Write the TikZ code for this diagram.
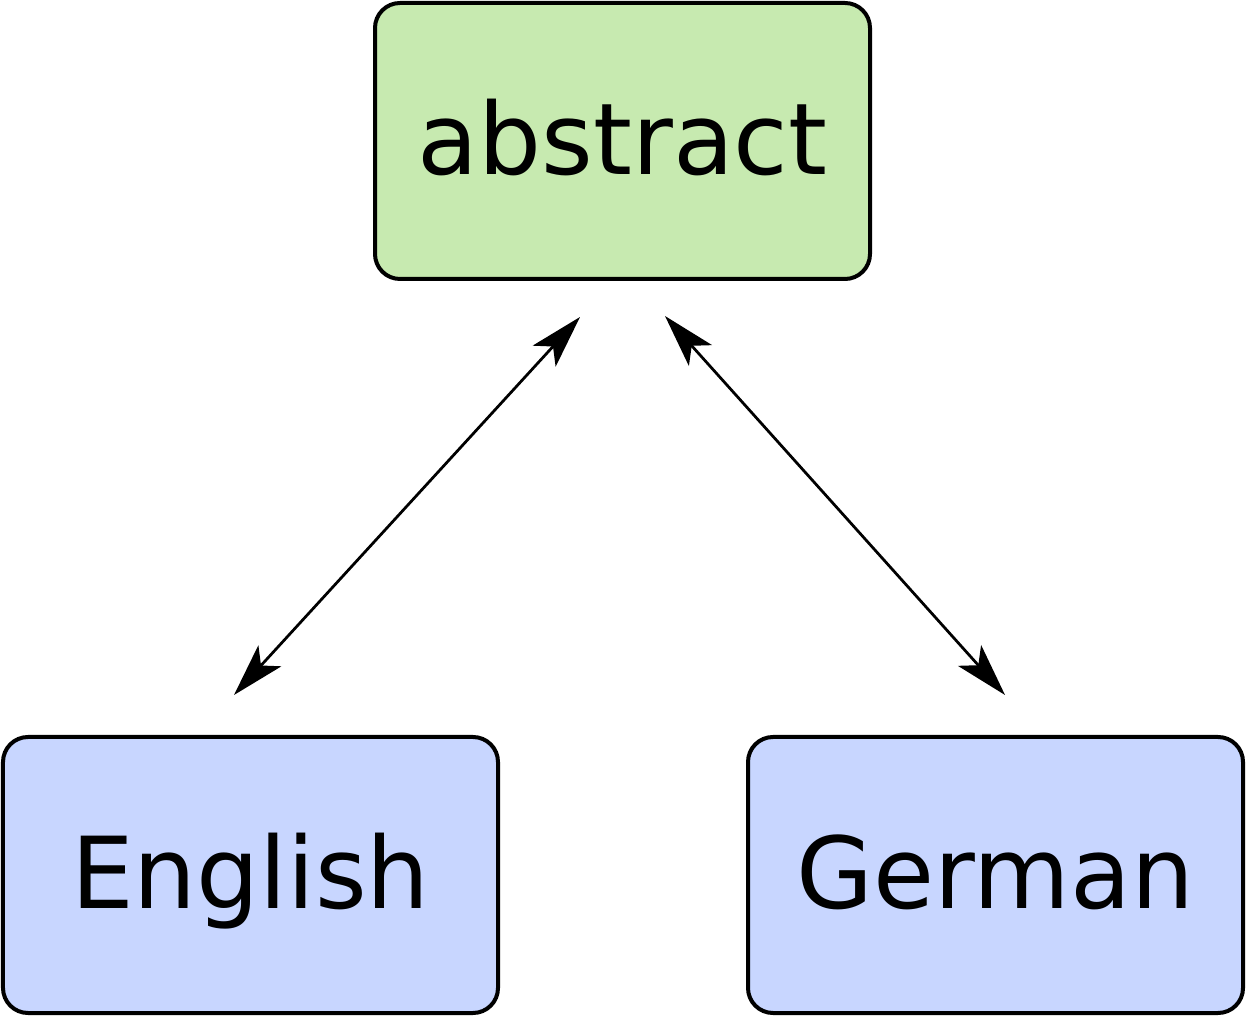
\documentclass[tikz,border=0pt]{standalone}
\usepackage{fontspec}
\setmainfont{DejaVu Sans}
\usetikzlibrary{arrows.meta}
\usetikzlibrary{positioning}
\definecolor{abstractgreen}{RGB}{199,234,176}
\definecolor{langblue}{RGB}{200,214,255}

\begin{document}
\begin{tikzpicture}[
        every node/.style={font=\fontsize{56.5}{68}\selectfont},
        langbox/.style={rectangle, rounded corners=0.5cm, draw=black, line width=0.08cm,
                        minimum width=9.9cm, minimum height=5.52cm, inner sep=0pt,
                        text height=40pt, text depth=2.4pt},
        link/.style={line width=0.055cm,
                     {Stealth[length=1.06cm, width=0.62cm, inset=0.26cm]}-{Stealth[length=1.06cm, width=0.62cm, inset=0.26cm]}},
    ]
    \useasboundingbox (0,0) rectangle (24.92,20.32);

    \node[langbox, fill=abstractgreen] (abstract) at (12.45,17.5) {abstract};
    \node[langbox, fill=langblue]      (english)  at (5.01,2.82)  {English};
    \node[langbox, fill=langblue]      (german)   [right=4.92cm of english] {German};

    \coordinate (abstract-l) at (11.6,13.98);
    \coordinate (abstract-r) at (13.3,14.0);
    \coordinate (english-t)  at (4.68,6.42);
    \coordinate (german-t)   at (20.1,6.42);

    \draw[link] (english-t) -- (abstract-l);
    \draw[link] (abstract-r) -- (german-t);
\end{tikzpicture}
\end{document}
